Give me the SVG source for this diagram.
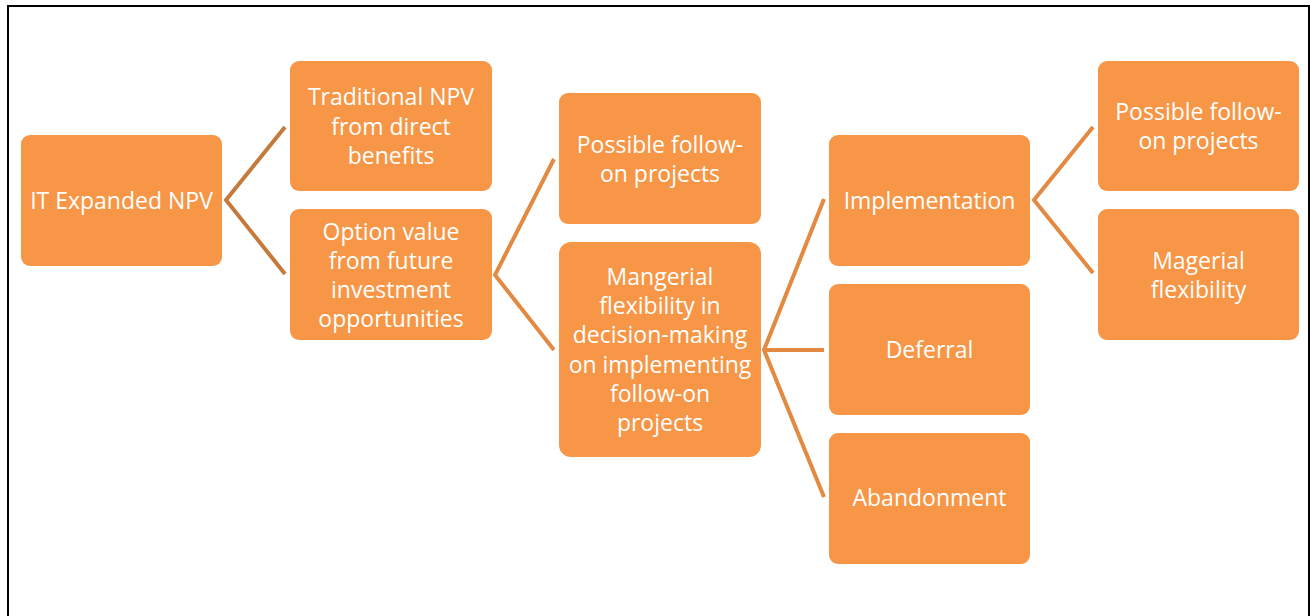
<svg xmlns="http://www.w3.org/2000/svg" width="1310" height="616" viewBox="0 0 1310 616">
<style>
.box{fill:#F79646;}
.t{fill:#FFFFFF;font-family:"Open Sans","Noto Sans",sans-serif;font-size:23px;text-anchor:middle;dominant-baseline:central;}
.c{fill:none;stroke:#E28A41;stroke-width:4;stroke-linejoin:miter;}
.c1{stroke:#C47A3A;}
</style>
<rect x="0" y="0" width="1310" height="616" fill="#FFFFFF"/>
<path d="M8,620 V6 H1309 V620" fill="none" stroke="#000000" stroke-width="2"/>
<g id="connectors">
<path class="c c1" d="M285,127 L226,200 L285,274"/>
<path class="c" d="M554,159 L495,275 L554,350"/>
<path class="c" d="M824,199 L764,350 L824,497 M764,350 H824"/>
<path class="c" d="M1093,127 L1034,200 L1093,273"/>
</g>
<g id="n-root"><rect class="box" x="21" y="135" width="201" height="131" rx="9"/><text class="t" x="121.5" y="200">IT Expanded NPV</text></g>
<g id="n-trad"><rect class="box" x="290" y="61" width="202" height="130" rx="9"/><text class="t" x="391" y="96">Traditional NPV</text><text class="t" x="391" y="126">from direct</text><text class="t" x="391" y="155">benefits</text></g>
<g id="n-option"><rect class="box" x="290" y="209" width="202" height="131" rx="9"/><text class="t" x="391" y="231">Option value</text><text class="t" x="391" y="260">from future</text><text class="t" x="391" y="289">investment</text><text class="t" x="391" y="318">opportunities</text></g>
<g id="n-follow1"><rect class="box" x="559" y="93" width="202" height="131" rx="9"/><text class="t" x="660" y="144">Possible follow-</text><text class="t" x="660" y="173">on projects</text></g>
<g id="n-mang"><rect class="box" x="559" y="242" width="202" height="215" rx="12"/><text class="t" x="660" y="276">Mangerial</text><text class="t" x="660" y="305">flexibility in</text><text class="t" x="660" y="334">decision-making</text><text class="t" x="660" y="364">on implementing</text><text class="t" x="660" y="393">follow-on</text><text class="t" x="660" y="422">projects</text></g>
<g id="n-impl"><rect class="box" x="829" y="135" width="201" height="131" rx="9"/><text class="t" x="929.5" y="200">Implementation</text></g>
<g id="n-defer"><rect class="box" x="829" y="284" width="201" height="131" rx="9"/><text class="t" x="929.5" y="349">Deferral</text></g>
<g id="n-aband"><rect class="box" x="829" y="433" width="201" height="131" rx="9"/><text class="t" x="929.5" y="497">Abandonment</text></g>
<g id="n-follow2"><rect class="box" x="1098" y="61" width="201" height="130" rx="9"/><text class="t" x="1198.5" y="111">Possible follow-</text><text class="t" x="1198.5" y="140">on projects</text></g>
<g id="n-magerial"><rect class="box" x="1098" y="209" width="201" height="131" rx="9"/><text class="t" x="1198.5" y="260">Magerial</text><text class="t" x="1198.5" y="289">flexibility</text></g>
</svg>
